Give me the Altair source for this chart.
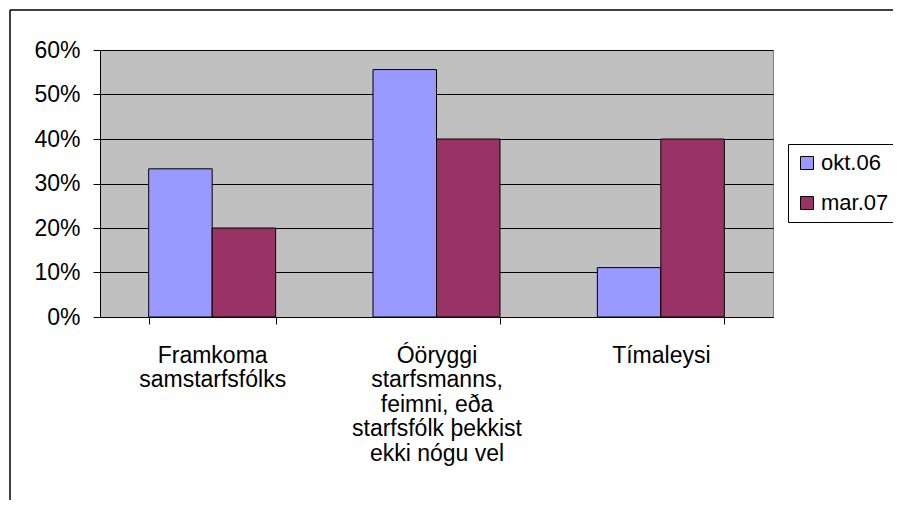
import altair as alt
import pandas as pd

categories = [
    "Framkoma\nsamstarfsfólks",
    "Óöryggi\nstarfsmanns,\nfeimni, eða\nstarfsfólk þekkist\nekki nógu vel",
    "Tímaleysi",
]
series = ["okt.06", "mar.07"]
okt06 = [0.333, 0.556, 0.111]
mar07 = [0.20, 0.40, 0.40]
y_ticks = [0, 0.1, 0.2, 0.3, 0.4, 0.5, 0.6]
colors = ["#9999FF", "#993366"]

rows = []
for c, a, b in zip(categories, okt06, mar07):
    rows.append({"cat": c, "series": series[0], "value": a})
    rows.append({"cat": c, "series": series[1], "value": b})
df = pd.DataFrame(rows)

FONT = "Liberation Sans"
FS = 23

bars = alt.Chart(df).mark_bar(stroke="black", strokeWidth=1).encode(
    x=alt.X(
        "cat:N",
        sort=categories,
        scale=alt.Scale(paddingInner=0.434, paddingOuter=0.217),
        axis=alt.Axis(
            title=None,
            labelAngle=0,
            labelFont=FONT,
            labelFontSize=FS,
            labelColor="black",
            labelLineHeight=24.5,
            labelPadding=20,
            labelLimit=400,
            labelExpr="split(datum.label, '\\n')",
            tickBand="extent",
            tickSize=7,
            tickColor="black",
            domainColor="black",
            grid=False,
        ),
    ),
    xOffset=alt.XOffset("series:N", sort=series, scale=alt.Scale(paddingInner=0, paddingOuter=0)),
    y=alt.Y(
        "value:Q",
        scale=alt.Scale(domain=[0, 0.6], nice=False),
        axis=alt.Axis(
            title=None,
            values=y_ticks,
            format=".0%",
            labelFont=FONT,
            labelFontSize=FS,
            labelColor="black",
            labelPadding=13,
            tickSize=7,
            tickColor="black",
            domainColor="black",
            grid=True,
            gridColor="black",
            gridWidth=1,
            gridOpacity=1,
        ),
    ),
    color=alt.Color(
        "series:N",
        sort=series,
        scale=alt.Scale(domain=series, range=colors),
        legend=alt.Legend(
            title=None,
            orient="none",
            legendX=688,
            legendY=94,
            strokeColor="black",
            fillColor="white",
            padding=8,
            symbolType="square",
            symbolSize=169,
            symbolStrokeColor="black",
            symbolStrokeWidth=1,
            symbolOpacity=1,
            labelFont=FONT,
            labelFontSize=22,
            labelColor="black",
            labelOffset=3,
            rowPadding=18,
        ),
    ),
)

frame_df = pd.DataFrame({"k": [0]})
left_line = alt.Chart(frame_df).mark_rule(color="black", strokeWidth=1.5).encode(
    x=alt.value(-90), y=alt.value(-40), y2=alt.value(480)
)
top_line = alt.Chart(frame_df).mark_rule(color="black", strokeWidth=1.5).encode(
    x=alt.value(-90), x2=alt.value(830), y=alt.value(-40)
)

chart = (
    alt.layer(bars, left_line, top_line)
    .properties(
        width=673,
        height=267,
        padding={"left": 92, "top": 42, "right": 120, "bottom": 183},
        autosize=alt.AutoSizeParams(type="none"),
        background="white",
    )
    .configure_view(fill="#C0C0C0", stroke="#808080", strokeWidth=1)
)

chart.save("out.html", embed_options={"renderer": "svg", "actions": False})
